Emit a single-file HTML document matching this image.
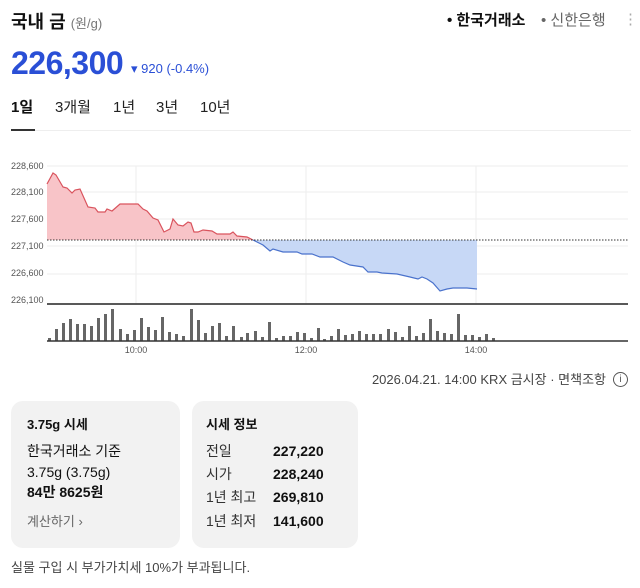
<!DOCTYPE html>
<html><head><meta charset="utf-8"><style>
body{margin:0;width:640px;height:588px;background:#fff;font-family:"Liberation Sans","Noto Sans CJK KR",sans-serif;position:relative;overflow:hidden;color:#111}
.a{position:absolute;white-space:nowrap;line-height:1}
.card{position:absolute;background:#f2f2f2;border-radius:12px}
svg rect.v{width:3px}
</style></head><body>
<div class="a" style="left:11px;top:13px;font-size:18px;font-weight:bold">국내 금 <span style="font-size:13px;font-weight:normal;color:#777">(원/g)</span></div>
<div class="a" style="left:447px;top:13px;font-size:15px;font-weight:bold">• 한국거래소</div>
<div class="a" style="left:541px;top:13px;font-size:15px;color:#666">• 신한은행</div>
<div class="a" style="left:623px;top:12px;font-size:15px;color:#aaa">⋮</div>
<div class="a" style="left:11px;top:47px;font-size:32px;font-weight:bold;color:#2a4fd6;letter-spacing:-0.5px">226,300</div>
<div class="a" style="left:131px;top:62px;font-size:13px;color:#2a4fd6">▾ 920 (-0.4%)</div>
<div class="a" style="left:11px;top:100px;font-size:15px;font-weight:bold">1일</div>
<div class="a" style="left:55px;top:100px;font-size:15px;color:#222">3개월</div>
<div class="a" style="left:113px;top:100px;font-size:15px;color:#222">1년</div>
<div class="a" style="left:156px;top:100px;font-size:15px;color:#222">3년</div>
<div class="a" style="left:200px;top:100px;font-size:15px;color:#222">10년</div>
<div style="position:absolute;left:11px;top:130px;width:620px;height:1px;background:#eee"></div>
<div style="position:absolute;left:11px;top:129px;width:24px;height:2px;background:#333"></div>
<svg style="position:absolute;left:0;top:0" width="640" height="360">
<g stroke="#eee" stroke-width="1">
<line x1="47" y1="166" x2="628" y2="166"/><line x1="47" y1="192" x2="628" y2="192"/><line x1="47" y1="219" x2="628" y2="219"/><line x1="47" y1="246" x2="628" y2="246"/><line x1="47" y1="274" x2="628" y2="274"/>
<line x1="136" y1="166" x2="136" y2="303"/><line x1="306" y1="166" x2="306" y2="303"/><line x1="476" y1="166" x2="476" y2="303"/>
</g>
<g font-size="9" fill="#555" font-family="Liberation Sans,sans-serif">
<text x="11" y="169">228,600</text><text x="11" y="195">228,100</text><text x="11" y="222">227,600</text><text x="11" y="249">227,100</text><text x="11" y="276">226,600</text><text x="11" y="303">226,100</text>
<text x="136" y="353" text-anchor="middle">10:00</text><text x="306" y="353" text-anchor="middle">12:00</text><text x="476" y="353" text-anchor="middle">14:00</text>
</g>
<polygon fill="#f8c4c8" points="47,184 53,173 56,175 63,187 67,188 72,193 75,190 80,189 88,207 95,208 98,212 105,212 107,209 112,211 120,204 138,204 143,209 147,211 153,218 158,220 164,232 170,229 173,219 178,225 183,226 188,222 191,223 194,232 198,232 203,230 212,231 217,234 230,234 233,232 237,236 247,237 253,240 47,240"/>
<polygon fill="#c7d8f6" points="253,240 263,245 270,251 273,249 283,252 297,252 302,254 312,254 320,257 333,257 343,262 350,265 363,267 368,272 377,272 382,273 397,274 410,277 418,279 422,277 427,279 433,283 440,291 447,289 453,288 467,288 477,289 477,240"/>
<polyline fill="none" stroke="#d9535d" stroke-width="1.2" points="47,184 53,173 56,175 63,187 67,188 72,193 75,190 80,189 88,207 95,208 98,212 105,212 107,209 112,211 120,204 138,204 143,209 147,211 153,218 158,220 164,232 170,229 173,219 178,225 183,226 188,222 191,223 194,232 198,232 203,230 212,231 217,234 230,234 233,232 237,236 247,237 253,240"/>
<polyline fill="none" stroke="#4a72cc" stroke-width="1.2" points="253,240 263,245 270,251 273,249 283,252 297,252 302,254 312,254 320,257 333,257 343,262 350,265 363,267 368,272 377,272 382,273 397,274 410,277 418,279 422,277 427,279 433,283 440,291 447,289 453,288 467,288 477,289"/>
<line x1="47" y1="240" x2="628" y2="240" stroke="#333" stroke-width="1" stroke-dasharray="1.5,1.5"/>
<line x1="47" y1="304" x2="628" y2="304" stroke="#222" stroke-width="1.5"/>
<g fill="#666">
<rect class="v" x="48" y="338" width="3" height="3"/><rect class="v" x="55" y="329" width="3" height="12"/><rect class="v" x="62" y="323" width="3" height="18"/><rect class="v" x="69" y="319" width="3" height="22"/><rect class="v" x="76" y="324" width="3" height="17"/><rect class="v" x="83" y="324" width="3" height="17"/><rect class="v" x="90" y="326" width="3" height="15"/><rect class="v" x="97" y="318" width="3" height="23"/><rect class="v" x="104" y="314" width="3" height="27"/><rect class="v" x="111" y="309" width="3" height="32"/><rect class="v" x="119" y="329" width="3" height="12"/><rect class="v" x="126" y="334" width="3" height="7"/><rect class="v" x="133" y="330" width="3" height="11"/><rect class="v" x="140" y="318" width="3" height="23"/><rect class="v" x="147" y="327" width="3" height="14"/><rect class="v" x="154" y="330" width="3" height="11"/><rect class="v" x="161" y="317" width="3" height="24"/><rect class="v" x="168" y="332" width="3" height="9"/><rect class="v" x="175" y="334" width="3" height="7"/><rect class="v" x="182" y="336" width="3" height="5"/><rect class="v" x="190" y="309" width="3" height="32"/><rect class="v" x="197" y="320" width="3" height="21"/><rect class="v" x="204" y="333" width="3" height="8"/><rect class="v" x="211" y="326" width="3" height="15"/><rect class="v" x="218" y="323" width="3" height="18"/><rect class="v" x="225" y="336" width="3" height="5"/><rect class="v" x="232" y="326" width="3" height="15"/><rect class="v" x="240" y="337" width="3" height="4"/><rect class="v" x="246" y="333" width="3" height="8"/><rect class="v" x="254" y="331" width="3" height="10"/><rect class="v" x="261" y="337" width="3" height="4"/><rect class="v" x="268" y="322" width="3" height="19"/><rect class="v" x="275" y="338" width="3" height="3"/><rect class="v" x="282" y="336" width="3" height="5"/><rect class="v" x="289" y="336" width="3" height="5"/><rect class="v" x="296" y="332" width="3" height="9"/><rect class="v" x="303" y="333" width="3" height="8"/><rect class="v" x="310" y="338" width="3" height="3"/><rect class="v" x="317" y="328" width="3" height="13"/>
<rect class="v" x="323" y="339" width="3" height="2"/><rect class="v" x="330" y="336" width="3" height="5"/><rect class="v" x="337" y="329" width="3" height="12"/><rect class="v" x="344" y="335" width="3" height="6"/><rect class="v" x="351" y="334" width="3" height="7"/><rect class="v" x="358" y="331" width="3" height="10"/><rect class="v" x="365" y="334" width="3" height="7"/><rect class="v" x="372" y="334" width="3" height="7"/><rect class="v" x="379" y="334" width="3" height="7"/><rect class="v" x="387" y="329" width="3" height="12"/><rect class="v" x="394" y="332" width="3" height="9"/><rect class="v" x="401" y="337" width="3" height="4"/><rect class="v" x="408" y="326" width="3" height="15"/><rect class="v" x="415" y="336" width="3" height="5"/><rect class="v" x="422" y="333" width="3" height="8"/><rect class="v" x="429" y="319" width="3" height="22"/><rect class="v" x="436" y="331" width="3" height="10"/><rect class="v" x="443" y="333" width="3" height="8"/><rect class="v" x="450" y="334" width="3" height="7"/><rect class="v" x="457" y="314" width="3" height="27"/><rect class="v" x="464" y="335" width="3" height="6"/><rect class="v" x="471" y="335" width="3" height="6"/><rect class="v" x="478" y="337" width="3" height="4"/><rect class="v" x="485" y="334" width="3" height="7"/><rect class="v" x="492" y="338" width="3" height="3"/>
</g>
<line x1="47" y1="341" x2="628" y2="341" stroke="#333" stroke-width="1.5"/>
</svg>
<div class="a" style="right:34px;top:373px;font-size:13px;color:#444">2026.04.21. 14:00 KRX 금시장 · 면책조항</div>
<div class="a" style="left:613px;top:372px;width:13px;height:13px;border:1px solid #555;border-radius:50%;font-size:10px;text-align:center;line-height:13px;color:#555">i</div>
<div class="card" style="left:11px;top:401px;width:169px;height:147px"></div>
<div class="card" style="left:192px;top:401px;width:166px;height:147px"></div>
<div class="a" style="left:27px;top:418px;font-size:13px;font-weight:bold">3.75g 시세</div>
<div class="a" style="left:27px;top:444px;font-size:14px">한국거래소 기준</div>
<div class="a" style="left:27px;top:465px;font-size:14px">3.75g (3.75g)</div>
<div class="a" style="left:27px;top:485px;font-size:14px;font-weight:bold">84만 8625원</div>
<div class="a" style="left:27px;top:515px;font-size:13px;color:#666">계산하기 ›</div>
<div class="a" style="left:206px;top:418px;font-size:13px;font-weight:bold">시세 정보</div>
<div class="a" style="left:206px;top:444px;font-size:14px;color:#333">전일</div><div class="a" style="left:273px;top:444px;font-size:14px;font-weight:bold">227,220</div>
<div class="a" style="left:206px;top:467px;font-size:14px;color:#333">시가</div><div class="a" style="left:273px;top:467px;font-size:14px;font-weight:bold">228,240</div>
<div class="a" style="left:206px;top:490px;font-size:14px;color:#333">1년 최고</div><div class="a" style="left:273px;top:490px;font-size:14px;font-weight:bold">269,810</div>
<div class="a" style="left:206px;top:514px;font-size:14px;color:#333">1년 최저</div><div class="a" style="left:273px;top:514px;font-size:14px;font-weight:bold">141,600</div>
<div class="a" style="left:11px;top:561px;font-size:13px;color:#444">실물 구입 시 부가가치세 10%가 부과됩니다.</div>
</body></html>
